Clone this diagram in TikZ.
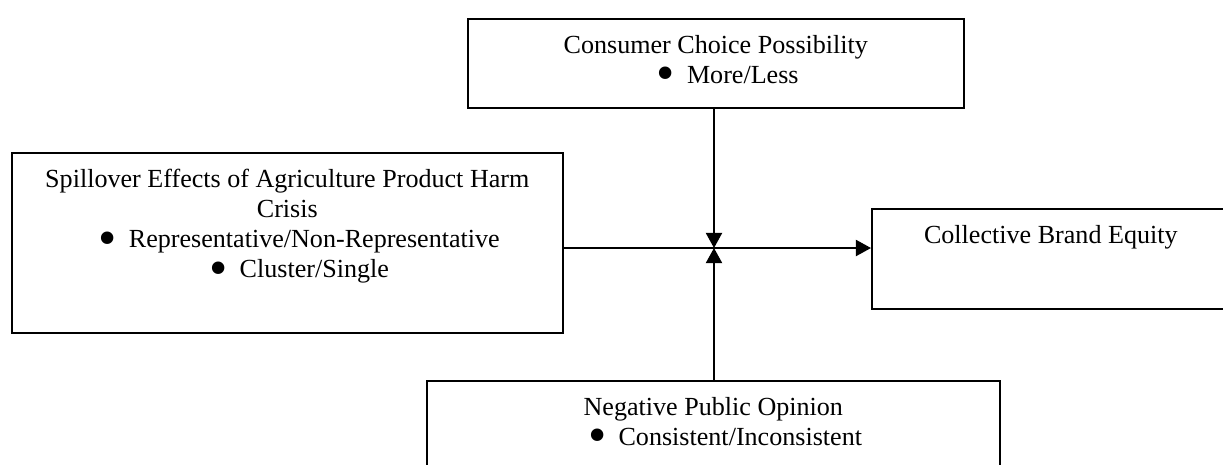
\documentclass[tikz,border=0pt]{standalone}
\usepackage{fontspec}
\setmainfont{Liberation Serif}
\usepackage{graphicx}
\usetikzlibrary{arrows.meta,positioning}
\newlength{\pxu}
\setlength{\pxu}{0.46pt}
\newcommand{\bdot}{\raisebox{-0.28em}{\scalebox{2.0}{\textbullet}}}
\newcommand{\bline}[1]{\hspace*{54\pxu}\llap{\bdot\hspace{12\pxu}}#1}
\tikzset{
  frame/.style={draw,line width=0.75pt,inner sep=0pt,anchor=north west},
  words/.style={inner sep=0pt,align=center,anchor=north,
                font=\fontsize{12}{13.8}\selectfont},
  arr/.style={-{Triangle[length=7pt,width=7.5pt]},line width=0.75pt},
}
\begin{document}
\begin{tikzpicture}[x=1\pxu,y=-1\pxu]
  \clip (0,0) rectangle (1223,464);
  %% Boxes
  \node[frame,minimum width=496\pxu,minimum height=89\pxu]  (cons)  at (467,18)  {};
  \node[frame,minimum width=551\pxu,minimum height=180\pxu] (spill) at (11,152)  {};
  \node[frame,minimum width=358\pxu,minimum height=100\pxu] (cbe)   at (871,208) {};
  \node[frame,minimum width=573\pxu,minimum height=110\pxu] (opin)  at (426,380) {};
  %% Texts
  \node[words,below=17\pxu of cons.north]  (consT)
    {Consumer Choice Possibility\\\bline{More/Less}};
  \node[words,below=17\pxu of spill.north] (spillT)
    {Spillover Effects of Agriculture Product Harm\\Crisis\\
     \bline{Representative/Non-Representative}\\\bline{Cluster/Single}};
  \node[words,below=17\pxu of cbe.north]   (cbeT)  {Collective Brand Equity};
  \node[words,below=17\pxu of opin.north]  (opinT)
    {Negative Public Opinion\\\bline{Consistent/Inconsistent}};
  %% Arrows
  \coordinate (hub) at (714,248);
  \draw[arr] (spill.east |- hub) -- (cbe.west |- hub);
  \draw[arr] (cons.south -| hub) -- (hub);
  \draw[arr] (opin.north -| hub) -- (hub);
\end{tikzpicture}
\end{document}
